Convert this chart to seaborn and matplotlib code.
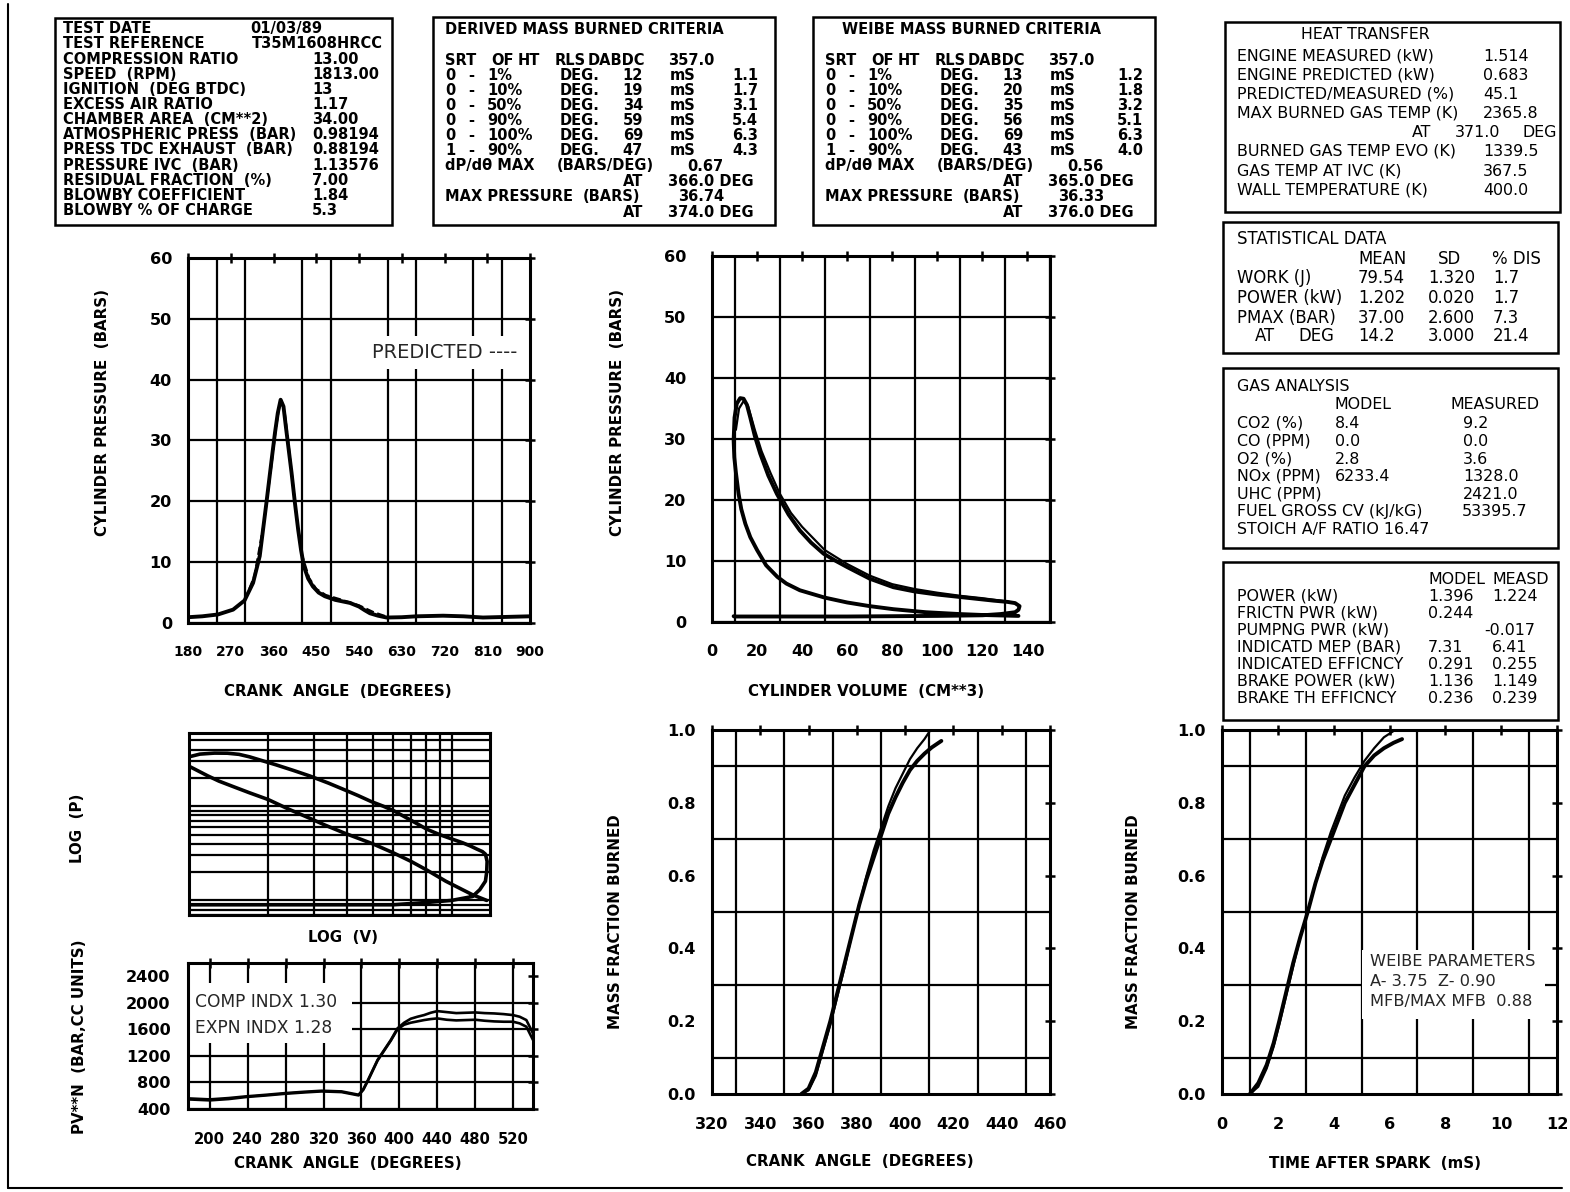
import numpy as np
import matplotlib
matplotlib.use("Agg")
import matplotlib.pyplot as plt
import seaborn as sns
from matplotlib.patches import Rectangle
from matplotlib.ticker import LogLocator

# ---------------- data ----------------
# cylinder pressure vs crank angle
crank_p = [180, 210, 243, 275, 299, 317, 331, 345, 356, 363, 369, 375, 381, 386, 392, 398, 405, 412, 418, 424,
           433, 443, 455, 468, 490, 521, 540, 552, 563, 580, 598, 630, 661, 717, 760, 801, 850, 900]
p_measured = [0.95, 1.1, 1.4, 2.2, 3.7, 6.6, 11.0, 19.7, 26.8, 31.2, 34.5, 36.7, 35.6, 32.3, 28.5, 24.7, 19.8, 15.3, 12.0, 9.3,
              7.3, 6.0, 5.0, 4.4, 3.8, 3.3, 2.7, 2.1, 1.6, 1.2, 0.9, 0.95, 1.1, 1.2, 1.1, 0.9, 1.0, 1.1]
crank_pred = [300, 320, 340, 355, 365, 372, 377, 383, 390, 400, 410, 420, 435, 450, 470, 500, 540, 570, 600]
p_predicted = [3.8, 7.8, 16.5, 25.5, 32.0, 35.4, 36.3, 35.0, 30.5, 23.5, 16.6, 11.2, 7.4, 5.6, 4.6, 3.9, 2.9, 1.8, 1.0]

# pressure vs cylinder volume (closed loop)
vol_loop = [136.0, 120.0, 110.0, 95.0, 80.5, 70.0, 60.0, 50.0, 39.0, 33.0, 29.0, 24.0, 20.0, 17.0, 14.8, 13.0, 11.8, 10.6, 9.9, 9.6,
            10.0, 11.0, 12.5, 14.0, 15.5, 17.0, 19.0, 21.4, 25.0, 28.8, 34.0, 39.0, 44.0, 49.5, 55.0, 60.0, 70.0, 80.5, 90.0, 100.0,
            110.0, 117.5, 125.0, 131.0, 134.5, 136.5, 136.0, 134.5, 128.0, 120.0, 100.0, 80.0, 60.0, 40.0, 20.0, 10.0, 9.6]
p_loop = [1.0, 1.15, 1.3, 1.6, 2.1, 2.6, 3.2, 4.0, 5.2, 6.3, 7.4, 9.3, 11.8, 13.9, 16.1, 18.5, 21.0, 24.5, 27.0, 29.8,
          33.5, 35.8, 36.7, 36.6, 35.6, 33.5, 30.5, 27.6, 24.0, 21.0, 17.6, 15.0, 13.0, 11.2, 10.0, 9.0, 7.1, 5.7, 5.0, 4.5,
          4.1, 3.8, 3.5, 3.3, 3.1, 2.6, 2.0, 1.6, 1.3, 1.1, 1.0, 0.95, 0.9, 0.9, 0.9, 0.9, 0.95]
vol_pred = [10.6, 12.0, 14.0, 16.0, 19.0, 22.0, 26.0, 30.0, 35.0, 40.0, 50.0, 60.0, 70.0, 80.0, 90.0, 100.0, 110.0, 120.0, 132.0]
p_vol_pred = [31.5, 35.0, 36.2, 35.4, 31.5, 28.0, 24.4, 21.1, 17.9, 15.6, 11.8, 9.5, 7.6, 6.2, 5.4, 4.8, 4.3, 3.9, 3.3]

# PV**N vs crank angle
crank_pvn = [177, 200, 220, 238, 260, 280, 300, 318, 339, 357, 362, 367, 377, 391, 398, 405, 412, 419, 426, 433,
             440, 450, 460, 470, 480, 490, 500, 510, 520, 527, 534, 541]
pvn_upper = [560, 545, 565, 590, 615, 640, 660, 675, 665, 615, 700, 840, 1140, 1440, 1615, 1700, 1760, 1790, 1815, 1850,
             1875, 1860, 1845, 1850, 1855, 1845, 1840, 1830, 1815, 1790, 1740, 1540]
pvn_lower = [545, 530, 550, 580, 605, 630, 650, 665, 655, 605, 690, 830, 1130, 1430, 1600, 1670, 1700, 1720, 1740, 1755,
             1765, 1745, 1735, 1740, 1745, 1730, 1720, 1715, 1715, 1690, 1640, 1440]

# mass fraction burned vs crank angle
crank_mfb = [357, 360, 363, 366, 369, 372, 375, 378, 381, 384, 387, 390, 393, 396, 399, 402, 405, 408, 411, 415]
mfb_derived = [0.0, 0.015, 0.06, 0.13, 0.2, 0.28, 0.36, 0.44, 0.52, 0.59, 0.65, 0.71, 0.77, 0.815, 0.855, 0.89, 0.915, 0.935, 0.952, 0.97]
crank_mfb_w = [357, 360, 363, 366, 369, 372, 375, 378, 381, 384, 387, 390, 393, 396, 399, 402, 405, 408, 410.5]
mfb_weibe = [0.0, 0.01, 0.05, 0.12, 0.19, 0.27, 0.35, 0.44, 0.52, 0.6, 0.67, 0.73, 0.79, 0.84, 0.88, 0.92, 0.95, 0.975, 1.0]

# mass fraction burned vs time after spark
time_mfb = [1.0, 1.3, 1.6, 1.85, 2.05, 2.3, 2.55, 2.8, 3.07, 3.35, 3.6, 3.9, 4.15, 4.4, 4.75, 5.1, 5.45, 5.8, 6.15, 6.45]
mfb_time_derived = [0.0, 0.03, 0.08, 0.14, 0.2, 0.28, 0.36, 0.43, 0.5, 0.58, 0.64, 0.7, 0.75, 0.8, 0.85, 0.9, 0.93, 0.95, 0.965, 0.975]
time_mfb_w = [1.0, 1.3, 1.6, 1.85, 2.05, 2.3, 2.55, 2.8, 3.07, 3.35, 3.6, 3.9, 4.15, 4.4, 4.75, 5.1, 5.45, 5.8, 6.2]
mfb_time_weibe = [0.0, 0.02, 0.07, 0.13, 0.19, 0.27, 0.35, 0.43, 0.5, 0.58, 0.65, 0.72, 0.77, 0.82, 0.87, 0.915, 0.95, 0.98, 1.0]

# tick labels
crank_ticks = [180, 270, 360, 450, 540, 630, 720, 810, 900]
pressure_ticks = [0, 10, 20, 30, 40, 50, 60]
volume_ticks = [0, 20, 40, 60, 80, 100, 120, 140]
pvn_ticks = [400, 800, 1200, 1600, 2000, 2400]
pvn_crank_ticks = [200, 240, 280, 320, 360, 400, 440, 480, 520]
mfb_crank_ticks = [320, 340, 360, 380, 400, 420, 440, 460]
mfb_ticks = [0.0, 0.2, 0.4, 0.6, 0.8, 1.0]
mfb_tick_labels = ["0.0", "0.2", "0.4", "0.6", "0.8", "1.0"]
time_ticks = [0, 2, 4, 6, 8, 10, 12]

# table texts
test_labels = ["TEST DATE", "TEST REFERENCE", "COMPRESSION RATIO", "SPEED  (RPM)", "IGNITION  (DEG BTDC)",
               "EXCESS AIR RATIO", "CHAMBER AREA  (CM**2)", "ATMOSPHERIC PRESS  (BAR)", "PRESS TDC EXHAUST  (BAR)",
               "PRESSURE IVC  (BAR)", "RESIDUAL FRACTION  (%)", "BLOWBY COEFFICIENT", "BLOWBY % OF CHARGE"]
test_values = ["01/03/89", "T35M1608HRCC", "13.00", "1813.00", "13", "1.17", "34.00", "0.98194", "0.88194",
               "1.13576", "7.00", "1.84", "5.3"]
burn_from = ["0", "0", "0", "0", "0", "1"]
burn_to = ["1%", "10%", "50%", "90%", "100%", "90%"]
derived_deg = ["12", "19", "34", "59", "69", "47"]
derived_ms = ["1.1", "1.7", "3.1", "5.4", "6.3", "4.3"]
derived_misc = ["357.0", "0.67", "366.0 DEG", "36.74", "374.0 DEG"]
weibe_deg = ["13", "20", "35", "56", "69", "43"]
weibe_ms = ["1.2", "1.8", "3.2", "5.1", "6.3", "4.0"]
weibe_misc = ["357.0", "0.56", "365.0 DEG", "36.33", "376.0 DEG"]
heat_labels = ["ENGINE MEASURED (kW)", "ENGINE PREDICTED (kW)", "PREDICTED/MEASURED (%)", "MAX BURNED GAS TEMP (K)",
               "", "BURNED GAS TEMP EVO (K)", "GAS TEMP AT IVC (K)", "WALL TEMPERATURE (K)"]
heat_values = ["1.514", "0.683", "45.1", "2365.8", "", "1339.5", "367.5", "400.0"]
heat_at = ["AT", "371.0", "DEG"]
stat_rows = ["WORK (J)", "POWER (kW)", "PMAX (BAR)", ""]
stat_mean = ["79.54", "1.202", "37.00", "14.2"]
stat_sd = ["1.320", "0.020", "2.600", "3.000"]
stat_dis = ["1.7", "1.7", "7.3", "21.4"]
gas_rows = ["CO2 (%)", "CO (PPM)", "O2 (%)", "NOx (PPM)", "UHC (PPM)"]
gas_model = ["8.4", "0.0", "2.8", "6233.4", ""]
gas_meas = ["9.2", "0.0", "3.6", "1328.0", "2421.0"]
fuel_cv = "53395.7"
stoich = "STOICH A/F RATIO 16.47"
perf_rows = ["POWER (kW)", "FRICTN PWR (kW)", "PUMPNG PWR (kW)", "INDICATD MEP (BAR)", "INDICATED EFFICNCY",
             "BRAKE POWER (kW)", "BRAKE TH EFFICNCY"]
perf_model = ["1.396", "0.244", "", "7.31", "0.291", "1.136", "0.236"]
perf_meas = ["1.224", "", "-0.017", "6.41", "0.255", "1.149", "0.239"]
weibe_params = ["WEIBE PARAMETERS", "A- 3.75  Z- 0.90", "MFB/MAX MFB  0.88"]
index_text = ["COMP INDX 1.30", "EXPN INDX 1.28"]

# ---------------- fonts / style ----------------
sns.set_style("white")
plt.rcParams['font.family'] = ['DejaVu Sans']
plt.rcParams['font.weight'] = 'bold'

W, H = 1570, 1192
fig = plt.figure(figsize=(W / 100, H / 100), dpi=100)
fig.patch.set_facecolor('white')
renderer = fig.canvas.get_renderer()


def fit_size(sample, target_px, weight):
    t = fig.text(0, 0, sample, fontsize=10, fontweight=weight)
    w = t.get_window_extent(renderer=renderer).width
    t.remove()
    return 10.0 * target_px / w


FS_LEFT = fit_size("COMPRESSION RATIO", 175, 'bold')
FS_RIGHT = fit_size("MAX BURNED GAS TEMP (K)", 222, 'normal')
FS_RIGHT2 = FS_RIGHT * 1.04
FS_TICK = fit_size("320", 30, 'bold') * 1.12
FS_AXL = fit_size("CRANK  ANGLE  (DEGREES)", 228, 'bold')
FS_PRED = fit_size("PREDICTED ----", 145, 'normal')
FS_IDX = fit_size("COMP INDX 1.30", 142, 'normal')
FS_WB = fit_size("WEIBE PARAMETERS", 165, 'normal')


def ftext(x, y, s, size, weight='normal', ha='left'):
    px = size * 100 / 72
    fig.text(x / W, 1 - (y + 0.36 * px) / H, s, fontsize=size, fontweight=weight,
             ha=ha, va='baseline', color='black')


def vlabel(x, y, s, size):
    fig.text(x / W, 1 - y / H, s, fontsize=size, fontweight='bold', rotation=90,
             ha='center', va='center', color='black')


def hlabel(x, y, s, size):
    fig.text(x / W, 1 - y / H, s, fontsize=size, fontweight='bold',
             ha='center', va='center', color='black')


def box(x0, y0, x1, y1, lw=1.8):
    fig.add_artist(Rectangle((x0 / W, 1 - y1 / H), (x1 - x0) / W, (y1 - y0) / H,
                             transform=fig.transFigure, fill=False, ec='black', lw=lw))


def axes_px(x0, y0, x1, y1):
    return fig.add_axes([x0 / W, 1 - y1 / H, (x1 - x0) / W, (y1 - y0) / H])


GRID = dict(color='black', linewidth=1.6)


def style(ax, xpad=15, ypad=8, xsize=None):
    for s in ax.spines.values():
        s.set_visible(True)
        s.set_linewidth(2.2)
        s.set_color('black')
    ax.set_axisbelow(True)
    ax.tick_params(which='major', direction='inout', length=7, width=1.8, color='black',
                   top=True, right=True, labelsize=FS_TICK, labelcolor='black')
    ax.tick_params(which='minor', length=0)
    ax.tick_params(axis='x', which='major', pad=xpad, labelsize=xsize or FS_TICK)
    ax.tick_params(axis='y', which='major', pad=ypad)
    ax.set_xlabel('')
    ax.set_ylabel('')


def line(ax, x, y, lw, ls='-'):
    sns.lineplot(x=x, y=y, ax=ax, color='black', linewidth=lw, linestyle=ls, sort=False, estimator=None)


# outer frame
fig.add_artist(plt.Line2D([8 / W, 8 / W], [1 - 1188 / H, 1 - 4 / H], transform=fig.transFigure, color='black', lw=1.5))
fig.add_artist(plt.Line2D([8 / W, 1562 / W], [1 - 1188 / H, 1 - 1188 / H], transform=fig.transFigure, color='black', lw=1.5))

# ---------- plot 1: pressure vs crank angle ----------
ax1 = axes_px(188, 258, 530, 623)
line(ax1, crank_p, p_measured, 2.8)
line(ax1, crank_pred, p_predicted, 1.6, '--')
ax1.set_xlim(180, 900)
ax1.set_ylim(0, 60)
ax1.set_xticks(crank_ticks, labels=[str(v) for v in crank_ticks])
ax1.set_xticks(np.arange(180, 901, 60), minor=True)
ax1.set_yticks(pressure_ticks, labels=[str(v) for v in pressure_ticks])
ax1.grid(which='minor', axis='x', **GRID)
ax1.grid(which='major', axis='y', **GRID)
style(ax1, xpad=12, ypad=8, xsize=FS_TICK * 0.86)
ax1.add_patch(Rectangle((548, 41.8), 331, 5.3, facecolor='white', edgecolor='none', zorder=1))
ax1.text(567, 44.4, "PREDICTED ----", fontsize=FS_PRED, fontweight='normal', va='center', ha='left', zorder=3)
vlabel(103, 413, "CYLINDER PRESSURE  (BARS)", FS_AXL)
hlabel(338, 691, "CRANK  ANGLE  (DEGREES)", FS_AXL)

# ---------- plot 2: pressure vs volume ----------
ax2 = axes_px(712, 256, 1050, 622)
line(ax2, vol_loop, p_loop, 2.8)
line(ax2, vol_pred, p_vol_pred, 1.6)
ax2.set_xlim(0, 150)
ax2.set_ylim(0, 60)
ax2.set_xticks(volume_ticks, labels=[str(v) for v in volume_ticks])
ax2.set_xticks(np.arange(0, 151, 10), minor=True)
ax2.set_yticks(pressure_ticks, labels=[str(v) for v in pressure_ticks])
ax2.grid(which='minor', axis='x', **GRID)
ax2.grid(which='major', axis='y', **GRID)
style(ax2, xpad=12, ypad=15)
vlabel(618, 413, "CYLINDER PRESSURE  (BARS)", FS_AXL)
hlabel(866, 691, "CYLINDER VOLUME  (CM**3)", FS_AXL)

# ---------- plot 3: log P vs log V ----------
ax3 = axes_px(189, 733, 490, 915)
ax3.set_xscale('log')
ax3.set_yscale('log')
line(ax3, vol_loop, p_loop, 2.6)
ax3.set_xlim(10, 140)
ax3.set_ylim(0.7, 60)
ax3.xaxis.set_minor_locator(LogLocator(base=10, subs=np.arange(2, 10)))
ax3.yaxis.set_minor_locator(LogLocator(base=10, subs=np.arange(2, 10)))
ax3.grid(which='both', **GRID)
style(ax3)
ax3.tick_params(which='both', length=0, labelbottom=False, labelleft=False, labeltop=False, labelright=False)
vlabel(77, 828, "LOG  (P)", FS_AXL)
hlabel(343, 938, "LOG  (V)", FS_AXL)

# ---------- plot 4: PV**N vs crank angle ----------
ax4 = axes_px(188, 963, 533, 1109)
line(ax4, crank_pvn, pvn_lower, 1.9)
line(ax4, crank_pvn, pvn_upper, 1.9)
ax4.set_xlim(177, 541)
ax4.set_ylim(400, 2600)
ax4.set_xticks(pvn_crank_ticks, labels=[str(v) for v in pvn_crank_ticks])
ax4.set_yticks(pvn_ticks, labels=[str(v) for v in pvn_ticks])
ax4.grid(which='major', **GRID)
ax4.yaxis.get_gridlines()[-1].set_visible(False)
style(ax4, xpad=13, ypad=9, xsize=FS_TICK * 0.92)
ax4.add_patch(Rectangle((178.5, 1394), 172, 906, facecolor='white', edgecolor='none', zorder=1))
ax4.text(184, 2012, index_text[0], fontsize=FS_IDX, fontweight='normal', va='center', ha='left', zorder=3)
ax4.text(184, 1620, index_text[1], fontsize=FS_IDX, fontweight='normal', va='center', ha='left', zorder=3)
vlabel(79, 1037, "PV**N  (BAR,CC UNITS)", FS_AXL)
hlabel(348, 1164, "CRANK  ANGLE  (DEGREES)", FS_AXL)

# ---------- plot 5: MFB vs crank angle ----------
ax5 = axes_px(712, 730, 1050, 1094)
line(ax5, crank_mfb, mfb_derived, 2.8)
line(ax5, crank_mfb_w, mfb_weibe, 1.6)
ax5.set_xlim(320, 460)
ax5.set_ylim(0, 1.0)
ax5.set_xticks(mfb_crank_ticks, labels=[str(v) for v in mfb_crank_ticks])
ax5.set_xticks(np.arange(320, 461, 10), minor=True)
ax5.set_yticks(mfb_ticks, labels=mfb_tick_labels)
ax5.set_yticks(np.arange(0, 1.01, 0.1), minor=True)
ax5.grid(which='minor', **GRID)
style(ax5, xpad=13, ypad=8)
vlabel(615, 922, "MASS FRACTION BURNED", FS_AXL)
hlabel(860, 1162, "CRANK  ANGLE  (DEGREES)", FS_AXL)

# ---------- plot 6: MFB vs time after spark ----------
ax6 = axes_px(1222, 730, 1557, 1094)
line(ax6, time_mfb, mfb_time_derived, 2.8)
line(ax6, time_mfb_w, mfb_time_weibe, 1.6)
ax6.set_xlim(0, 12)
ax6.set_ylim(0, 1.0)
ax6.set_xticks(time_ticks, labels=[str(v) for v in time_ticks])
ax6.set_xticks(np.arange(0, 12.01, 1), minor=True)
ax6.set_yticks(mfb_ticks, labels=mfb_tick_labels)
ax6.set_yticks(np.arange(0, 1.01, 0.1), minor=True)
ax6.grid(which='minor', **GRID)
style(ax6, xpad=13, ypad=8)
ax6.add_patch(Rectangle((5.03, 0.205), 6.55, 0.19, facecolor='white', edgecolor='none', zorder=1))
for i, s in enumerate(weibe_params):
    ax6.text(5.3, 0.363 - i * 0.055, s, fontsize=FS_WB, fontweight='normal', va='center', ha='left', zorder=3)
vlabel(1133, 922, "MASS FRACTION BURNED", FS_AXL)
hlabel(1375, 1163, "TIME AFTER SPARK  (mS)", FS_AXL)

# ---------- box 1: test data ----------
box(55, 18, 392, 225)
for i, (lab, val) in enumerate(zip(test_labels, test_values)):
    y = 28 + 15.15 * i
    ftext(63, y, lab, FS_LEFT, 'bold')
    vx = 250 if i == 0 else (252 if i == 1 else 312)
    ftext(vx, y, val, FS_LEFT, 'bold')


# ---------- boxes 2 & 3: mass burned criteria ----------
def criteria(dx, title, title_x, degs, mss, misc, ms_right):
    box(433 + dx, 17, 775 + dx, 225)
    ftext(title_x, 29, title, FS_LEFT, 'bold')
    for word, x in zip(["SRT", "OF", "HT", "RLS", "DABDC"], [445, 491, 518, 555, 588]):
        ftext(x + dx, 60, word, FS_LEFT, 'bold')
    ftext(668 + dx, 60, misc[0], FS_LEFT, 'bold')
    for i in range(6):
        y = 75 + 15 * i
        ftext(445 + dx, y, burn_from[i], FS_LEFT, 'bold')
        ftext(471 + dx, y, "-", FS_LEFT, 'bold', ha='center')
        ftext(487 + dx, y, burn_to[i], FS_LEFT, 'bold')
        ftext(560 + dx, y, "DEG.", FS_LEFT, 'bold')
        ftext(643 + dx, y, degs[i], FS_LEFT, 'bold', ha='right')
        ftext(670 + dx, y, "mS", FS_LEFT, 'bold')
        ftext(ms_right, y, mss[i], FS_LEFT, 'bold', ha='right')
    ftext(445 + dx, 165, "dP/dθ MAX", FS_LEFT, 'bold')
    ftext(557 + dx, 165, "(BARS/DEG)", FS_LEFT, 'bold')
    ftext(687 + dx, 166, misc[1], FS_LEFT, 'bold')
    ftext(643 + dx, 181, "AT", FS_LEFT, 'bold', ha='right')
    ftext(668 + dx, 181, misc[2], FS_LEFT, 'bold')
    ftext(445 + dx, 196, "MAX PRESSURE", FS_LEFT, 'bold')
    ftext(583 + dx, 196, "(BARS)", FS_LEFT, 'bold')
    ftext(678 + dx, 196, misc[3], FS_LEFT, 'bold')
    ftext(643 + dx, 212, "AT", FS_LEFT, 'bold', ha='right')
    ftext(668 + dx, 212, misc[4], FS_LEFT, 'bold')


criteria(0, "DERIVED MASS BURNED CRITERIA", 445, derived_deg, derived_ms, derived_misc, 758)
criteria(380, "WEIBE MASS BURNED CRITERIA", 842, weibe_deg, weibe_ms, weibe_misc, 1143)

# ---------- box 4: heat transfer ----------
box(1225, 22, 1560, 212)
ftext(1365, 33, "HEAT TRANSFER", FS_RIGHT, ha='center')
heat_y = [55, 74, 93, 112, 131, 150, 170, 189]
for y, lab, val in zip(heat_y, heat_labels, heat_values):
    if lab:
        ftext(1237, y, lab, FS_RIGHT)
        ftext(1483, y, val, FS_RIGHT)
ftext(1412, heat_y[4], heat_at[0], FS_RIGHT)
ftext(1455, heat_y[4], heat_at[1], FS_RIGHT)
ftext(1522, heat_y[4], heat_at[2], FS_RIGHT)

# ---------- box 5: statistical data ----------
box(1223, 222, 1558, 353)
ftext(1237, 238, "STATISTICAL DATA", FS_RIGHT2)
ftext(1358, 258, "MEAN", FS_RIGHT2)
ftext(1438, 258, "SD", FS_RIGHT2)
ftext(1492, 258, "% DIS", FS_RIGHT2)
stat_y = [277, 297, 317, 335]
for i, y in enumerate(stat_y):
    if stat_rows[i]:
        ftext(1237, y, stat_rows[i], FS_RIGHT2)
    else:
        ftext(1255, y, "AT", FS_RIGHT2)
        ftext(1298, y, "DEG", FS_RIGHT2)
    ftext(1358, y, stat_mean[i], FS_RIGHT2)
    ftext(1428, y, stat_sd[i], FS_RIGHT2)
    ftext(1493, y, stat_dis[i], FS_RIGHT2)

# ---------- box 6: gas analysis ----------
box(1223, 368, 1558, 548)
ftext(1237, 385, "GAS ANALYSIS", FS_RIGHT)
ftext(1335, 403, "MODEL", FS_RIGHT)
ftext(1450, 403, "MEASURED", FS_RIGHT)
gas_y = [422, 440, 458, 475, 493]
for y, lab, mo, me in zip(gas_y, gas_rows, gas_model, gas_meas):
    ftext(1237, y, lab, FS_RIGHT)
    ftext(1335, y, mo, FS_RIGHT)
    ftext(1463, y, me, FS_RIGHT)
ftext(1237, 510, "FUEL GROSS CV (kJ/kG)", FS_RIGHT)
ftext(1462, 510, fuel_cv, FS_RIGHT)
ftext(1237, 528, stoich, FS_RIGHT)

# ---------- box 7: performance ----------
box(1223, 562, 1558, 720)
ftext(1428, 578, "MODEL", FS_RIGHT)
ftext(1492, 578, "MEASD", FS_RIGHT)
perf_y = [595, 612, 629, 646, 663, 680, 697]
for y, lab, mo, me in zip(perf_y, perf_rows, perf_model, perf_meas):
    ftext(1237, y, lab, FS_RIGHT)
    ftext(1428, y, mo, FS_RIGHT)
    ftext(1484 if me.startswith('-') else 1492, y, me, FS_RIGHT)

fig.savefig("out.png", dpi=100, facecolor='white')
